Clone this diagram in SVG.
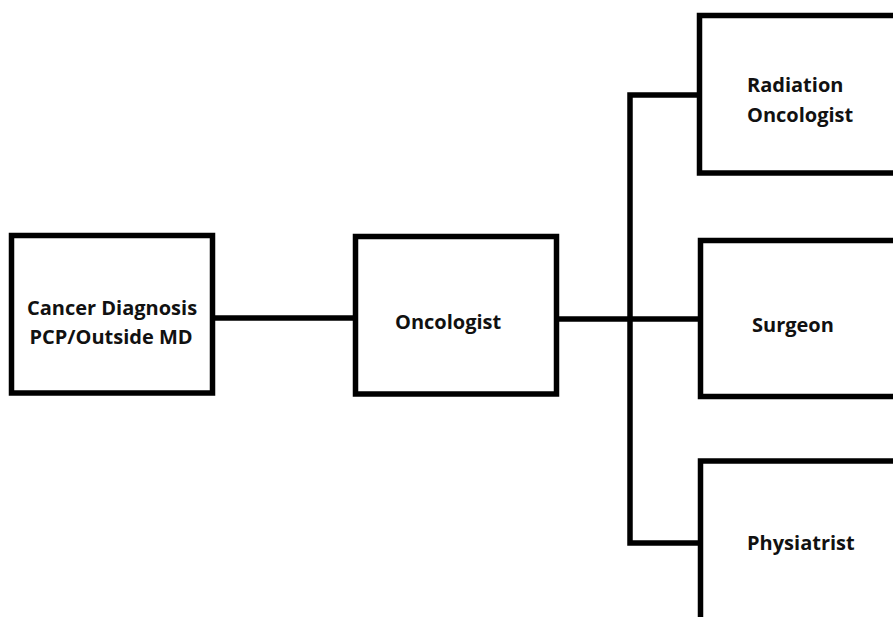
<svg xmlns="http://www.w3.org/2000/svg" width="893" height="617" viewBox="0 0 893 617">
  <style>
    .box { fill: #ffffff; stroke: #000000; stroke-width: 5.5; }
    .wire { fill: none; stroke: #000000; stroke-width: 5.5; stroke-linejoin: miter; }
    .label { font-family: "Open Sans", "Liberation Sans", sans-serif; font-weight: 700; font-size: 20px; fill: #111111; }
  </style>
  <rect width="893" height="617" fill="#ffffff"/>

  <g id="connectors">
    <!-- diagnosis to oncologist -->
    <line class="wire" x1="214" y1="318" x2="356" y2="318"/>
    <!-- oncologist to the branch trunk and surgeon -->
    <line class="wire" x1="557" y1="319" x2="701" y2="319"/>
    <!-- trunk with branches to radiation oncologist and physiatrist -->
    <polyline class="wire" points="700,95 630,95 630,543 701,543"/>
  </g>

  <g id="cancer-diagnosis">
    <rect class="box" x="11.5" y="235.5" width="201" height="157.5"/>
    <text class="label" x="112" y="315" text-anchor="middle">Cancer Diagnosis</text>
    <text class="label" x="111" y="344" text-anchor="middle">PCP/Outside MD</text>
  </g>

  <g id="oncologist">
    <rect class="box" x="355.5" y="236.5" width="201" height="157.5"/>
    <text class="label" x="395" y="329">Oncologist</text>
  </g>

  <g id="radiation-oncologist">
    <rect class="box" x="699.5" y="15.5" width="230" height="157.5"/>
    <text class="label" x="747" y="92">Radiation</text>
    <text class="label" x="747" y="122">Oncologist</text>
  </g>

  <g id="surgeon">
    <rect class="box" x="700.5" y="240.5" width="230" height="156"/>
    <text class="label" x="752" y="332">Surgeon</text>
  </g>

  <g id="physiatrist">
    <rect class="box" x="700.5" y="461" width="230" height="200"/>
    <text class="label" x="747" y="550">Physiatrist</text>
  </g>
</svg>
